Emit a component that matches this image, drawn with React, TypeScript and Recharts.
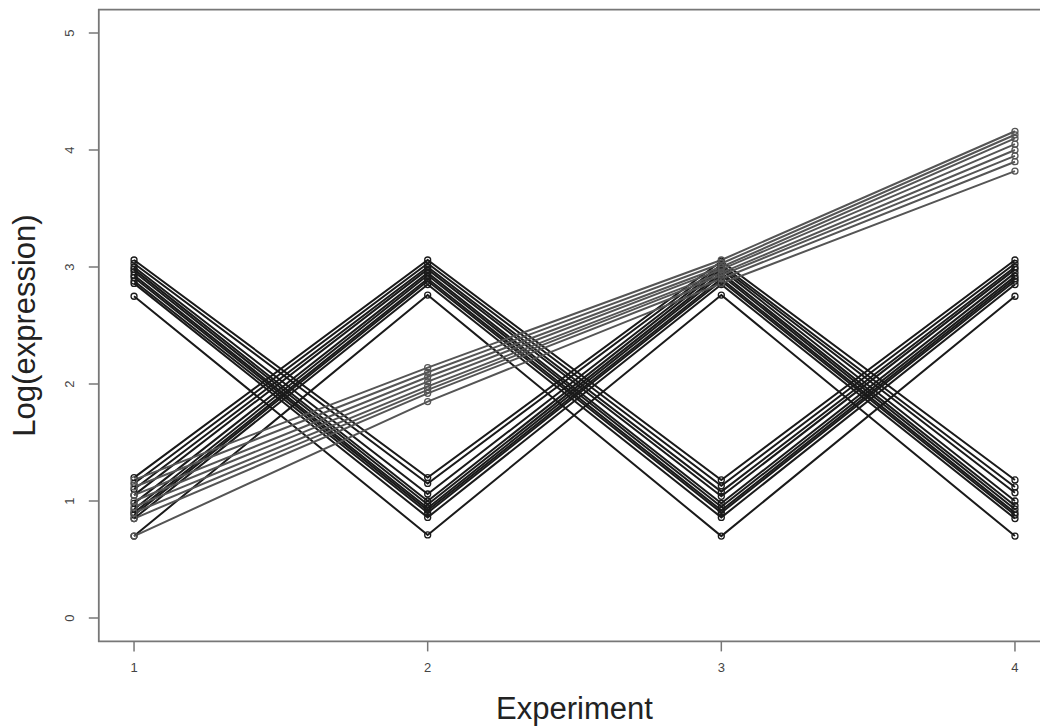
import React from "react";
import { LineChart, Line, XAxis, YAxis, ReferenceArea, Label } from "recharts";

const experiments = [1, 2, 3, 4];
const xTicks = [1, 2, 3, 4];
const yTicks = [0, 1, 2, 3, 4, 5];

// high-low-high-low profiles
const groupA: number[][] = [
  [3.06, 1.2, 3.05, 1.18],
  [3.03, 1.15, 3.02, 1.12],
  [3.0, 1.06, 3.0, 1.07],
  [2.98, 1.0, 2.98, 1.0],
  [2.96, 0.97, 2.95, 0.96],
  [2.93, 0.94, 2.93, 0.93],
  [2.91, 0.92, 2.9, 0.9],
  [2.88, 0.9, 2.88, 0.88],
  [2.86, 0.86, 2.85, 0.85],
  [2.75, 0.71, 2.76, 0.7],
];

// low-high-low-high profiles
const groupB: number[][] = [
  [1.2, 3.06, 1.18, 3.06],
  [1.15, 3.03, 1.13, 3.03],
  [1.1, 3.0, 1.08, 3.0],
  [1.05, 2.98, 1.04, 2.98],
  [0.98, 2.95, 0.98, 2.95],
  [0.93, 2.93, 0.95, 2.92],
  [0.9, 2.9, 0.92, 2.9],
  [0.88, 2.88, 0.9, 2.88],
  [0.85, 2.85, 0.86, 2.85],
  [0.7, 2.76, 0.7, 2.75],
];

// steadily rising profiles
const groupC: number[][] = [
  [1.18, 2.14, 3.06, 4.16],
  [1.12, 2.1, 3.03, 4.13],
  [1.05, 2.06, 3.0, 4.1],
  [1.0, 2.02, 2.98, 4.05],
  [0.95, 1.98, 2.95, 4.0],
  [0.9, 1.95, 2.93, 3.95],
  [0.85, 1.92, 2.9, 3.9],
  [0.7, 1.85, 2.86, 3.82],
];

type Series = { key: string; color: string };
const seriesList: Series[] = [];
const chartData = experiments.map((x, i) => {
  const row: Record<string, number> = { x };
  groupA.forEach((s, j) => (row[`a${j}`] = s[i]));
  groupB.forEach((s, j) => (row[`b${j}`] = s[i]));
  groupC.forEach((s, j) => (row[`c${j}`] = s[i]));
  return row;
});
groupA.forEach((_, j) => seriesList.push({ key: `a${j}`, color: "#1a1a1a" }));
groupB.forEach((_, j) => seriesList.push({ key: `b${j}`, color: "#1a1a1a" }));
groupC.forEach((_, j) => seriesList.push({ key: `c${j}`, color: "#555555" }));

const FONT = "'Liberation Sans', Arial, Helvetica, sans-serif";

const YTick = (props: any) => {
  const { x, y, payload } = props;
  return (
    <text
      x={x}
      y={y}
      transform={`rotate(-90, ${x}, ${y})`}
      textAnchor="middle"
      fontSize={13}
      fontFamily={FONT}
      fill="#444"
    >
      {payload.value}
    </text>
  );
};

export default function App() {
  return (
    <div
      style={{
        position: "absolute",
        left: 0,
        top: 0,
        width: 1040,
        height: 728,
        overflow: "hidden",
        background: "#fff",
      }}
    >
      <LineChart
        width={1100}
        height={728}
        data={chartData}
        margin={{ top: 9.6, right: 49.8, bottom: 0, left: 0 }}
      >
        <XAxis
          dataKey="x"
          type="number"
          domain={[0.88, 4.12]}
          ticks={xTicks}
          allowDataOverflow
          height={86.6}
          tickSize={10}
          tickMargin={11}
          axisLine={false}
          tickLine={{ stroke: "#777", strokeWidth: 1.5 }}
          tick={{ fontSize: 13, fontFamily: FONT, fill: "#444" }}
        >
          <Label
            content={(p: any) => (
              <text
                x={p.viewBox.x + p.viewBox.width / 2}
                y={p.viewBox.y + 78}
                textAnchor="middle"
                fontSize={31}
                fontFamily={FONT}
                fill="#222"
              >
                Experiment
              </text>
            )}
          />
        </XAxis>
        <YAxis
          type="number"
          domain={[-0.2, 5.2]}
          ticks={yTicks}
          allowDataOverflow
          width={98.8}
          tickSize={10}
          tickMargin={14.8}
          axisLine={false}
          tickLine={{ stroke: "#777", strokeWidth: 1.5 }}
          tick={<YTick />}
        >
          <Label
            content={(p: any) => {
              const cx = 35;
              const cy = p.viewBox.y + p.viewBox.height / 2;
              return (
                <text
                  x={cx}
                  y={cy}
                  transform={`rotate(-90, ${cx}, ${cy})`}
                  textAnchor="middle"
                  fontSize={31}
                  fontFamily={FONT}
                  fill="#222"
                >
                  Log(expression)
                </text>
              );
            }}
          />
        </YAxis>
        <ReferenceArea
          x1={0.88}
          x2={4.12}
          y1={-0.2}
          y2={5.2}
          fill="none"
          fillOpacity={0}
          stroke="#777"
          strokeWidth={1.8}
          ifOverflow="visible"
        />
        {seriesList.map((s) => (
          <Line
            key={s.key}
            dataKey={s.key}
            type="linear"
            stroke={s.color}
            strokeWidth={2}
            dot={{ r: 3, stroke: s.color, strokeWidth: 1.3, fill: "none" }}
            activeDot={false}
            isAnimationActive={false}
          />
        ))}
      </LineChart>
    </div>
  );
}
